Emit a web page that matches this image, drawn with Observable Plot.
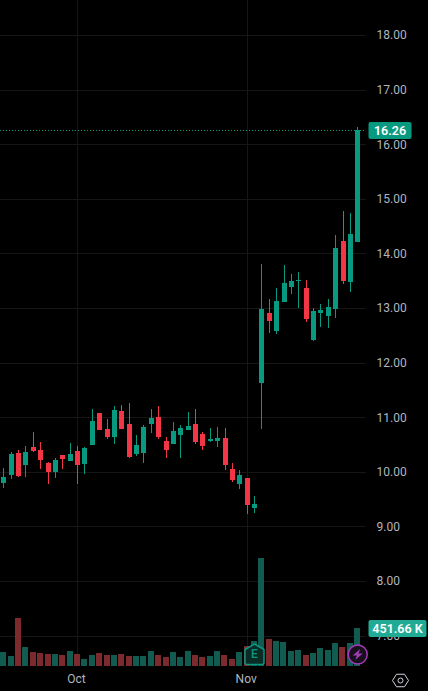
<!DOCTYPE html>
<html>
<head>
<meta charset="utf-8">
<script src="https://cdn.jsdelivr.net/npm/d3@7"></script>
<script src="https://cdn.jsdelivr.net/npm/@observablehq/plot@0.6"></script>
<style>
html,body{margin:0;padding:0;background:#000;overflow:hidden}
#chart{position:relative;width:428px;height:691px}
#chart svg{position:absolute;left:0;top:0;display:block}
</style>
</head>
<body>
<div id="chart"></div>
<script>
const open  = [9.80,9.94,10.34,10.12,10.45,10.40,10.16,9.99,10.31,10.20,10.38,10.14,10.49,11.08,10.78,10.64,11.11,10.88,10.33,10.34,10.88,11.00,10.56,10.51,10.67,10.77,10.88,10.69,10.56,10.56,10.62,10.05,9.78,9.89,9.34,11.63,12.91,12.58,13.11,13.38,13.49,13.37,12.41,12.91,12.85,12.98,14.23,13.48,14.21];
const high  = [10.07,10.36,10.40,10.47,10.73,10.55,10.18,10.25,10.31,10.53,10.47,10.45,11.15,11.08,10.97,11.21,11.22,11.26,10.67,10.86,11.15,11.21,10.64,10.91,10.86,11.10,11.15,10.73,10.80,10.82,10.80,10.16,10.03,9.89,9.56,13.81,13.16,13.37,13.79,13.62,13.66,13.51,13.00,13.07,13.16,14.34,14.78,14.74,16.31];
const low   = [9.70,9.87,9.90,9.90,10.36,10.05,9.78,9.89,10.05,10.20,9.78,9.96,10.49,10.77,10.60,10.51,10.78,10.25,10.29,10.16,10.71,10.60,10.25,10.51,10.25,10.77,10.51,10.40,10.55,10.45,10.03,9.81,9.68,9.23,9.25,10.78,12.54,12.52,13.11,13.26,13.00,12.74,12.40,12.65,12.63,12.82,13.44,13.29,14.21];
const close = [9.91,10.33,9.92,10.36,10.38,10.22,9.99,10.22,10.23,10.33,10.12,10.44,10.93,10.77,10.64,11.13,10.78,10.27,10.49,10.82,10.99,10.64,10.40,10.75,10.80,10.84,10.55,10.47,10.60,10.62,10.12,9.85,9.94,9.39,9.41,12.98,12.76,13.13,13.46,13.49,13.51,12.80,12.94,12.96,13.02,14.10,13.49,14.36,16.26];
const volumeK = [166,119,570,226,166,155,143,143,131,178,143,83,131,155,131,131,143,119,119,119,178,131,107,166,107,178,131,107,119,178,131,83,166,238,297,1284,321,297,285,178,190,131,155,214,190,273,226,273,452];
const priceTicks = [7,8,9,10,11,12,13,14,15,16,17,18];
const monthIndex = [10,33];
const monthNames = ["Oct","Nov"];
const lastPrice = 16.26;
const lastVolumeK = 451.66;
const earningsIndex = [34];
const flashIndex = [48];

const GREEN="#089981", RED="#F23645", VOL_GREEN="#125b51", VOL_RED="#7c2a2e", GRID="#161616";
const FONT="Roboto, 'Open Sans', sans-serif";
const candles = open.map((o,i)=>({i,open:o,high:high[i],low:low[i],close:close[i],volume:volumeK[i],
  up:close[i]>=o}));
const iDomain = [-0.447, 49.18];            // price pane: 0..366 px
const iDomainFull = [-0.447, 57.6];         // overlay pane: 0..428 px

function roundBox(w,h,r){
  return {draw(ctx){
    const x=-w/2,y=-h/2;
    ctx.moveTo(x+r,y);ctx.lineTo(x+w-r,y);ctx.arcTo(x+w,y,x+w,y+r,r);
    ctx.lineTo(x+w,y+h-r);ctx.arcTo(x+w,y+h,x+w-r,y+h,r);
    ctx.lineTo(x+r,y+h);ctx.arcTo(x,y+h,x,y+h-r,r);
    ctx.lineTo(x,y+r);ctx.arcTo(x,y,x+r,y,r);ctx.closePath();
  }};
}
const house={draw(ctx){
  ctx.moveTo(0,-10.5);ctx.lineTo(9.5,-5);ctx.lineTo(9.5,8);
  ctx.quadraticCurveTo(9.5,10,7.5,10);ctx.lineTo(-7.5,10);
  ctx.quadraticCurveTo(-9.5,10,-9.5,8);ctx.lineTo(-9.5,-5);ctx.closePath();
}};
const bolt={draw(ctx){
  ctx.moveTo(2.5,-5.5);ctx.lineTo(-5,1);ctx.lineTo(-0.8,1);ctx.lineTo(-2.5,5.5);
  ctx.lineTo(5,-1);ctx.lineTo(0.8,-1);ctx.closePath();
}};
const hexFlat={draw(ctx,size){
  const r=Math.sqrt(size/Math.PI);
  for(let k=0;k<6;k++){const a=k*Math.PI/3,px=r*Math.cos(a),py=r*0.9*Math.sin(a);k?ctx.lineTo(px,py):ctx.moveTo(px,py);}
  ctx.closePath();
}};

const pricePlot = Plot.plot({
  width:428,height:691,marginLeft:0,marginRight:62,marginTop:0,marginBottom:25,
  style:{background:"#000",color:"#b2b5be",fontFamily:FONT,fontSize:"12px"},
  x:{type:"linear",domain:iDomain},
  y:{type:"linear",domain:[18,7],range:[35,635.6]},
  marks:[
    Plot.ruleY(priceTicks,{stroke:GRID,strokeWidth:1,shapeRendering:"crispEdges"}),
    Plot.ruleX(monthIndex,{stroke:GRID,strokeWidth:1,shapeRendering:"crispEdges"}),
    Plot.ruleY([lastPrice],{stroke:GREEN,strokeWidth:1,strokeDasharray:"1,2"}),
    Plot.ruleX(candles,{x:"i",y1:"low",y2:"high",stroke:d=>d.up?GREEN:RED,strokeWidth:1,shapeRendering:"crispEdges"}),
    Plot.ruleX(candles,{x:"i",y1:"open",y2:"close",stroke:d=>d.up?GREEN:RED,strokeWidth:5,strokeLinecap:"butt",shapeRendering:"crispEdges"}),
    Plot.axisY({ticks:priceTicks,anchor:"right",tickSize:0,tickPadding:10,tickFormat:d3.format(".2f"),label:null,fill:"#b2b5be",fontSize:12}),
    Plot.axisX({ticks:monthIndex,tickSize:0,tickPadding:8,dx:-1,tickFormat:d=>monthNames[monthIndex.indexOf(d)],label:null,fill:"#b2b5be",fontSize:12}),
    Plot.dot([lastPrice],{y:d=>d,frameAnchor:"right",dx:23.5,r:10,symbol:roundBox(43,17,2),fill:GREEN,stroke:"none"}),
    Plot.text([lastPrice],{y:d=>d,frameAnchor:"right",dx:23.5,text:d=>d.toFixed(2),fill:"#fff",fontWeight:600,fontSize:12.5,textAnchor:"middle"})
  ]
});

const volumePlot = Plot.plot({
  width:428,height:691,marginLeft:0,marginRight:0,marginTop:0,marginBottom:0,
  style:{background:"transparent",fontFamily:FONT},
  x:{type:"linear",domain:iDomainFull,axis:null},
  y:{type:"linear",domain:[0,1284],range:[666,558],axis:null},
  marks:[
    Plot.ruleX(candles,{x:"i",dx:-0.5,y1:0,y2:"volume",stroke:d=>d.up?VOL_GREEN:VOL_RED,strokeWidth:6,shapeRendering:"crispEdges"}),
    Plot.dot(earningsIndex,{x:d=>d,frameAnchor:"bottom",dy:-37,r:10,symbol:house,fill:"#0b2b27",stroke:GREEN,strokeWidth:1.5}),
    Plot.text(earningsIndex,{x:d=>d,frameAnchor:"bottom",dy:-37,text:()=>"E",fill:GREEN,fontSize:12,fontWeight:500,textAnchor:"middle",lineAnchor:"middle"}),
    Plot.dot(flashIndex,{x:d=>d,frameAnchor:"bottom",dy:-37,r:9.5,fill:"#170f1c",stroke:"#a23bb8",strokeWidth:1.5}),
    Plot.dot(flashIndex,{x:d=>d,frameAnchor:"bottom",dy:-37,r:6,symbol:bolt,fill:"#a23bb8",stroke:"none"}),
    Plot.dot([lastVolumeK],{y:d=>d,frameAnchor:"right",dx:-31,r:10,symbol:roundBox(58,17,2),fill:"#22ab94",stroke:"none"}),
    Plot.text([lastVolumeK],{y:d=>d,frameAnchor:"right",dx:-31,text:d=>d.toFixed(2)+" K",fill:"#fff",fontWeight:600,fontSize:12.5,textAnchor:"middle"}),
    Plot.dot([0],{frameAnchor:"bottom-right",dx:-28,dy:-11,r:8,symbol:hexFlat,fill:"none",stroke:"#d1d4dc",strokeWidth:1}),
    Plot.dot([0],{frameAnchor:"bottom-right",dx:-28,dy:-11,r:2.5,fill:"none",stroke:"#d1d4dc",strokeWidth:1})
  ]
});

const host=document.getElementById("chart");
host.append(pricePlot,volumePlot);
</script>
</body>
</html>
